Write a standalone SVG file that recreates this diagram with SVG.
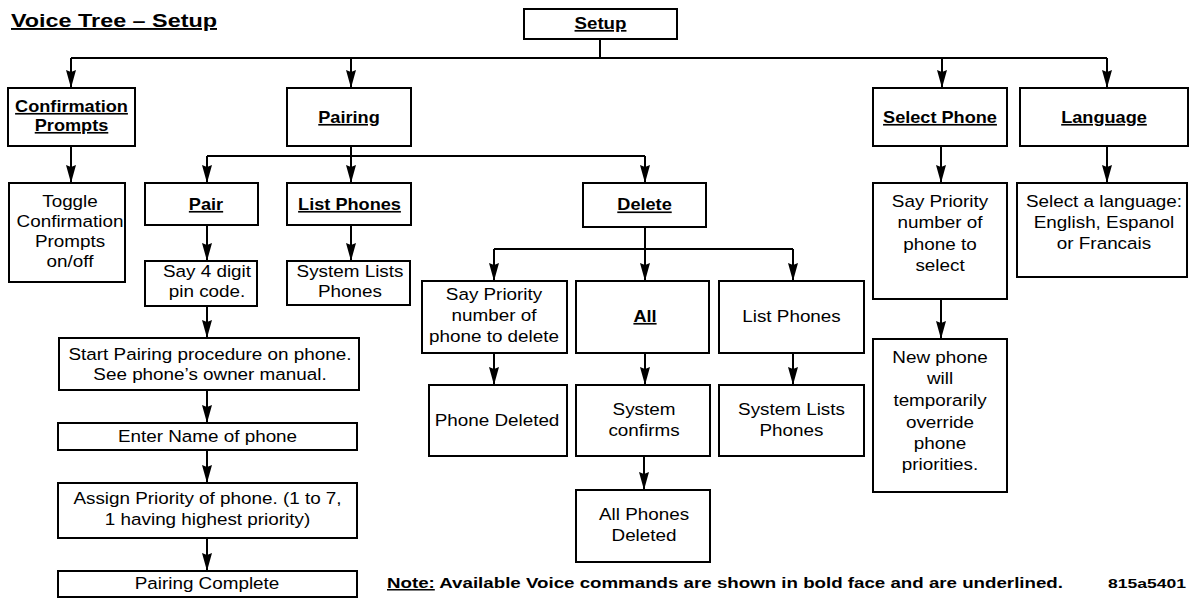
<svg xmlns="http://www.w3.org/2000/svg" width="1191" height="598" viewBox="0 0 1191 598">
<style>
.bx{fill:#fff;stroke:#000;stroke-width:2}
.t{font-family:"Liberation Sans",Arial,sans-serif;font-size:17px;text-anchor:middle;fill:#000}
.b{font-family:"Liberation Sans",Arial,sans-serif;font-size:16.5px;font-weight:bold;text-anchor:middle;text-decoration:underline;fill:#000}
.c path{fill:none;stroke:#000;stroke-width:2}
.hd{font-family:"Liberation Sans",Arial,sans-serif;font-weight:bold;fill:#000}
</style>
<defs>
<marker id="ah" viewBox="0 0 18 10" refX="18" refY="5" markerWidth="18" markerHeight="10" markerUnits="userSpaceOnUse" orient="auto">
<path d="M0,0 L18,5 L0,10 L2,5 z" fill="#000"/>
</marker>
</defs>
<rect width="1191" height="598" fill="#fff"/>
<text class="hd" x="11" y="27" font-size="19" textLength="206" lengthAdjust="spacingAndGlyphs" text-decoration="underline">Voice Tree – Setup</text>

<g class="c" id="connectors">
<path d="M600,39 V58"/>
<path d="M71,58 H1107"/>
<path d="M71,58 V88" marker-end="url(#ah)"/>
<path d="M351,58 V88" marker-end="url(#ah)"/>
<path d="M942,58 V88" marker-end="url(#ah)"/>
<path d="M1107,58 V88" marker-end="url(#ah)"/>
<path d="M71,146 V183" marker-end="url(#ah)"/>
<path d="M351,146 V156"/>
<path d="M207,156 H645"/>
<path d="M207,156 V183" marker-end="url(#ah)"/>
<path d="M351,156 V183" marker-end="url(#ah)"/>
<path d="M645,156 V183" marker-end="url(#ah)"/>
<path d="M207,225 V261" marker-end="url(#ah)"/>
<path d="M351,225 V261" marker-end="url(#ah)"/>
<path d="M207,306 V338" marker-end="url(#ah)"/>
<path d="M207,390 V423" marker-end="url(#ah)"/>
<path d="M207,450 V483" marker-end="url(#ah)"/>
<path d="M207,538 V571" marker-end="url(#ah)"/>
<path d="M645,227 V249"/>
<path d="M494,249 H793"/>
<path d="M494,249 V281" marker-end="url(#ah)"/>
<path d="M645,249 V281" marker-end="url(#ah)"/>
<path d="M793,249 V281" marker-end="url(#ah)"/>
<path d="M494,353 V385" marker-end="url(#ah)"/>
<path d="M645,353 V385" marker-end="url(#ah)"/>
<path d="M793,353 V385" marker-end="url(#ah)"/>
<path d="M644,456 V490" marker-end="url(#ah)"/>
<path d="M941,146 V183" marker-end="url(#ah)"/>
<path d="M941,299 V339" marker-end="url(#ah)"/>
<path d="M1107,146 V183" marker-end="url(#ah)"/>
</g>

<g id="setup"><rect class="bx" x="524" y="9" width="153" height="30"/>
<text class="b" style="font-size:17px" transform="translate(600.5,0) scale(1.1,1)" x="0" y="29">Setup</text></g>

<g id="confirmation"><rect class="bx" x="8" y="88" width="127" height="58"/>
<text class="b" transform="translate(71.5,0) scale(1.1,1)"><tspan x="0" y="112">Confirmation</tspan><tspan x="0" y="131">Prompts</tspan></text></g>

<g id="pairing"><rect class="bx" x="287" y="88" width="124" height="58"/>
<text class="b" transform="translate(349,0) scale(1.1,1)" x="0" y="123">Pairing</text></g>

<g id="selectphone"><rect class="bx" x="873" y="88" width="134" height="58"/>
<text class="b" transform="translate(940,0) scale(1.1,1)" x="0" y="123">Select Phone</text></g>

<g id="language"><rect class="bx" x="1020" y="88" width="168" height="58"/>
<text class="b" transform="translate(1104,0) scale(1.1,1)" x="0" y="123">Language</text></g>

<g id="toggle"><rect class="bx" x="9" y="183" width="116" height="99"/>
<text class="t" transform="translate(70,0) scale(1.11,1)"><tspan x="0" y="207">Toggle</tspan><tspan x="0" y="227">Confirmation</tspan><tspan x="0" y="247">Prompts</tspan><tspan x="0" y="267">on/off</tspan></text></g>

<g id="pair"><rect class="bx" x="145" y="183" width="113" height="42"/>
<text class="b" transform="translate(206,0) scale(1.1,1)" x="0" y="210">Pair</text></g>

<g id="listphones"><rect class="bx" x="287" y="183" width="124" height="42"/>
<text class="b" transform="translate(349.5,0) scale(1.1,1)" x="0" y="210">List Phones</text></g>

<g id="saypin"><rect class="bx" x="145" y="261" width="112" height="45"/>
<text class="t" transform="translate(207,0) scale(1.11,1)"><tspan x="0" y="277">Say 4 digit</tspan><tspan x="0" y="297">pin code.</tspan></text></g>

<g id="systemlists1"><rect class="bx" x="287" y="261" width="123" height="44"/>
<text class="t" transform="translate(350,0) scale(1.11,1)"><tspan x="0" y="277">System Lists</tspan><tspan x="0" y="297">Phones</tspan></text></g>

<g id="startpairing"><rect class="bx" x="59" y="338" width="300" height="52"/>
<text class="t" transform="translate(210,0) scale(1.11,1)"><tspan x="0" y="360">Start Pairing procedure on phone.</tspan><tspan x="0" y="380">See phone’s owner manual.</tspan></text></g>

<g id="entername"><rect class="bx" x="58" y="423" width="299" height="27"/>
<text class="t" transform="translate(207.5,0) scale(1.11,1)" x="0" y="442">Enter Name of phone</text></g>

<g id="assign"><rect class="bx" x="58" y="483" width="299" height="55"/>
<text class="t" transform="translate(207.5,0) scale(1.11,1)"><tspan x="0" y="504">Assign Priority of phone. (1 to 7,</tspan><tspan x="0" y="525">1 having highest priority)</tspan></text></g>

<g id="complete"><rect class="bx" x="58" y="571" width="299" height="26"/>
<text class="t" transform="translate(207,0) scale(1.11,1)" x="0" y="589">Pairing Complete</text></g>

<g id="delete"><rect class="bx" x="583" y="183" width="123" height="44"/>
<text class="b" transform="translate(644.5,0) scale(1.1,1)" x="0" y="210.5">Delete</text></g>

<g id="saydelete"><rect class="bx" x="422" y="281" width="145" height="72"/>
<text class="t" transform="translate(494,0) scale(1.11,1)"><tspan x="0" y="300">Say Priority</tspan><tspan x="0" y="321">number of</tspan><tspan x="0" y="342">phone to delete</tspan></text></g>

<g id="all"><rect class="bx" x="576" y="281" width="133" height="72"/>
<text class="b" transform="translate(645,0) scale(1.1,1)" x="0" y="322">All</text></g>

<g id="listdelete"><rect class="bx" x="719" y="281" width="145" height="72"/>
<text class="t" transform="translate(791.5,0) scale(1.11,1)" x="0" y="322">List Phones</text></g>

<g id="phonedeleted"><rect class="bx" x="429" y="385" width="138" height="71"/>
<text class="t" transform="translate(497,0) scale(1.11,1)" x="0" y="426">Phone Deleted</text></g>

<g id="systemconfirms"><rect class="bx" x="576" y="385" width="134" height="71"/>
<text class="t" transform="translate(644,0) scale(1.11,1)"><tspan x="0" y="415">System</tspan><tspan x="0" y="436">confirms</tspan></text></g>

<g id="systemlists2"><rect class="bx" x="719" y="385" width="145" height="71"/>
<text class="t" transform="translate(791.5,0) scale(1.11,1)"><tspan x="0" y="415">System Lists</tspan><tspan x="0" y="436">Phones</tspan></text></g>

<g id="allphonesdeleted"><rect class="bx" x="576" y="490" width="134" height="72"/>
<text class="t" transform="translate(644,0) scale(1.11,1)"><tspan x="0" y="520">All Phones</tspan><tspan x="0" y="541">Deleted</tspan></text></g>

<g id="sayselect"><rect class="bx" x="873" y="183" width="134" height="116"/>
<text class="t" transform="translate(940,0) scale(1.11,1)"><tspan x="0" y="207">Say Priority</tspan><tspan x="0" y="228.5">number of</tspan><tspan x="0" y="250">phone to</tspan><tspan x="0" y="271.5">select</tspan></text></g>

<g id="newphone"><rect class="bx" x="873" y="339" width="134" height="153"/>
<text class="t" transform="translate(940,0) scale(1.11,1)"><tspan x="0" y="363">New phone</tspan><tspan x="0" y="384.5">will</tspan><tspan x="0" y="406">temporarily</tspan><tspan x="0" y="427.5">override</tspan><tspan x="0" y="449">phone</tspan><tspan x="0" y="470.5">priorities.</tspan></text></g>

<g id="selectlanguage"><rect class="bx" x="1017" y="183" width="170" height="94"/>
<text class="t" transform="translate(1104,0) scale(1.11,1)"><tspan x="0" y="207">Select a language:</tspan><tspan x="0" y="228">English, Espanol</tspan><tspan x="0" y="249">or Francais</tspan></text></g>

<text class="hd" x="387" y="588" font-size="15" textLength="676" lengthAdjust="spacingAndGlyphs"><tspan text-decoration="underline">Note:</tspan> Available Voice commands are shown in bold face and are underlined.</text>
<text class="hd" x="1108" y="588" font-size="12.5" textLength="78" lengthAdjust="spacingAndGlyphs">815a5401</text>
</svg>
